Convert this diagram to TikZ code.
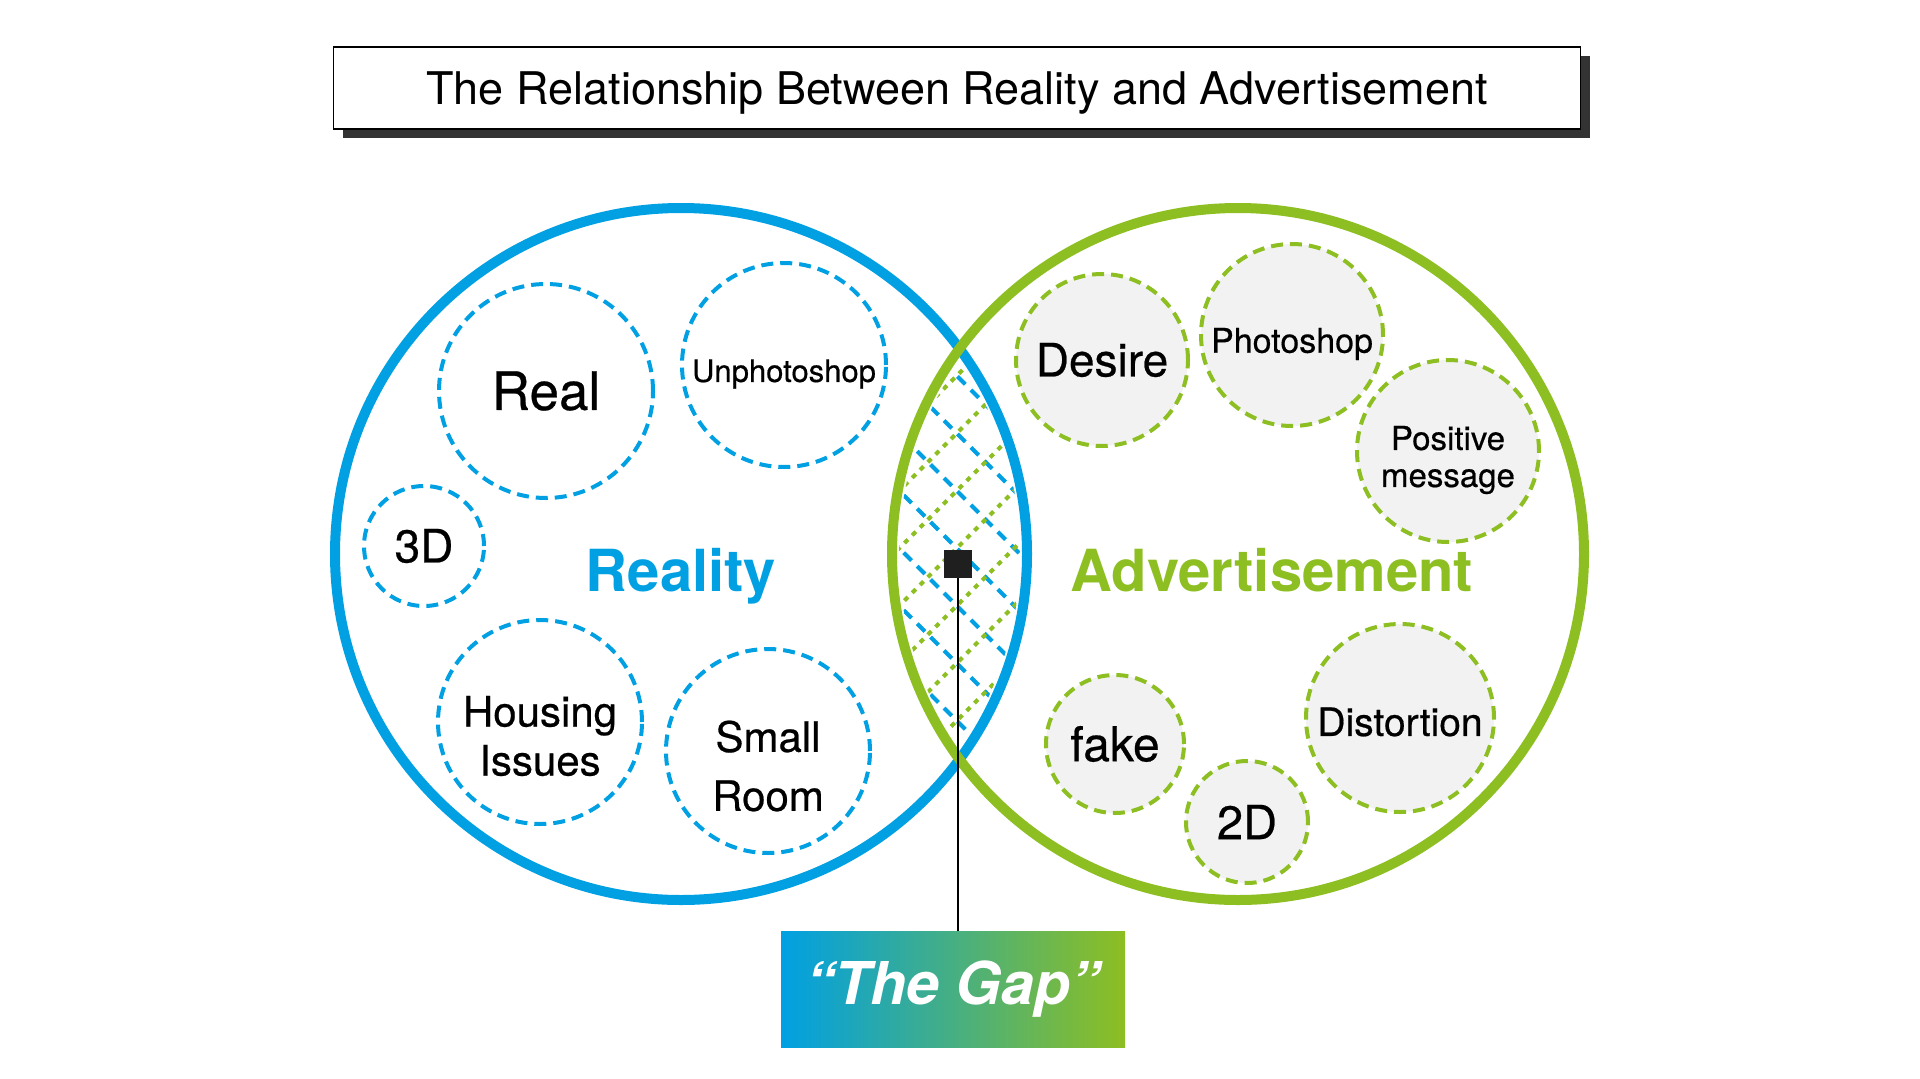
\documentclass[tikz,border=0pt]{standalone}
\usepackage{fontspec}
\setmainfont{TeX Gyre Heros}
\newfontfamily\medfont[FakeBold=0.5]{TeX Gyre Heros}
\usetikzlibrary{shadows}
\definecolor{realblue}{RGB}{0,160,227}
\definecolor{adgreen}{RGB}{141,190,34}
\definecolor{bubblegray}{RGB}{242,242,242}

\begin{document}
\begin{tikzpicture}[x=1pt, y=-1pt,
  ring/.style = {draw, circle, line width=10pt, minimum size=692pt, inner sep=0pt},
  realbub/.style = {draw=realblue, fill=white, circle, line width=4pt, dash pattern=on 12pt off 7pt, inner sep=0pt},
  adbub/.style = {draw=adgreen, fill=bubblegray, circle, line width=4pt, dash pattern=on 12pt off 7pt, inner sep=0pt},
  txt/.style 2 args = {align=center, font=\medfont\fontsize{#1}{#2}\selectfont},
  hatchb/.style = {realblue, line width=4pt, dash pattern=on 11pt off 8pt},
  hatchg/.style = {adgreen, line width=4pt, dash pattern=on 5pt off 6pt}]

\useasboundingbox (0,0) rectangle (1920,1079);

% title
\node[draw, line width=1.5pt, fill=white, minimum width=1247pt, minimum height=82pt, text depth=0pt,
  drop shadow={shadow xshift=9pt, shadow yshift=-9pt, fill=black!80, opacity=1},
  font=\fontsize{45}{52}\selectfont] (title) at (957,88)
  {The Relationship Between Reality and Advertisement};

% the gap
\begin{scope}
\clip (681,554) circle (339pt);
\clip (1238,554) circle (339pt);
\foreach \k in {-7,...,5}
  \draw[hatchb] (850,{499+57.5*\k}) -- (1070,{719+57.5*\k});
\foreach \k in {-3,...,9}
  \draw[hatchg] (850,{540+57.5*\k}) -- (1070,{320+57.5*\k});
\end{scope}

\node[ring, draw=realblue] (reality) at (681,554) {};
\node[ring, draw=adgreen] (advert) at (1238,554) {};

\node[font=\bfseries\fontsize{58}{70}\selectfont, text=realblue, anchor=base] (realitylbl) at (681,591) {Reality};
\node[font=\bfseries\fontsize{58}{70}\selectfont, text=adgreen, anchor=base] (advertlbl) at (1272,591) {Advertisement};

% reality bubbles
\node[realbub, minimum size=214pt, label={[txt={53}{60}]center:Real}] (real) at (546,391) {};
\node[realbub, minimum size=204pt, label={[txt={31}{37}, yshift=-9pt]center:Unphotoshop}] (unphoto) at (784,365) {};
\node[realbub, minimum size=120pt, label={[txt={46}{52}]center:3D}] (threed) at (424,546) {};
\node[realbub, minimum size=204pt, label={[txt={42}{49}, yshift=-14pt]center:Housing\\Issues}] (housing) at (540,722) {};
\node[realbub, minimum size=204pt, label={[txt={42}{59}, yshift=-15pt]center:Small\\Room}] (smallroom) at (768,751) {};

% advertisement bubbles
\node[adbub, minimum size=172pt, label={[txt={46}{52}]center:Desire}] (desire) at (1102,360) {};
\node[adbub, minimum size=182pt, label={[txt={34}{40}, yshift=-9pt]center:Photoshop}] (photoshop) at (1292,335) {};
\node[adbub, minimum size=182pt, label={[txt={33}{37}, yshift=-9pt]center:Positive\\message}] (positive) at (1448,451) {};
\node[adbub, minimum size=138pt, label={[txt={48}{54}]center:fake}] (fake) at (1115,744) {};
\node[adbub, minimum size=122pt, label={[txt={47}{54}]center:2D}] (twod) at (1247,822) {};
\node[adbub, minimum size=188pt, label={[txt={39}{45}, yshift=-4pt]center:Distortion}] (distortion) at (1400,718) {};

% gap marker
\node[fill=black!88, minimum size=28pt, inner sep=0pt] (gapmark) at (958,564) {};
\node[left color=realblue, right color=adgreen, minimum width=344pt, minimum height=116pt,
  text=white, font=\bfseries\itshape\fontsize{59}{70}\selectfont] (gap) at (953,989) {“The Gap”};
\draw[line width=1.5pt] (gapmark.south) -- (gapmark.south |- gap.north);
\end{tikzpicture}
\end{document}
